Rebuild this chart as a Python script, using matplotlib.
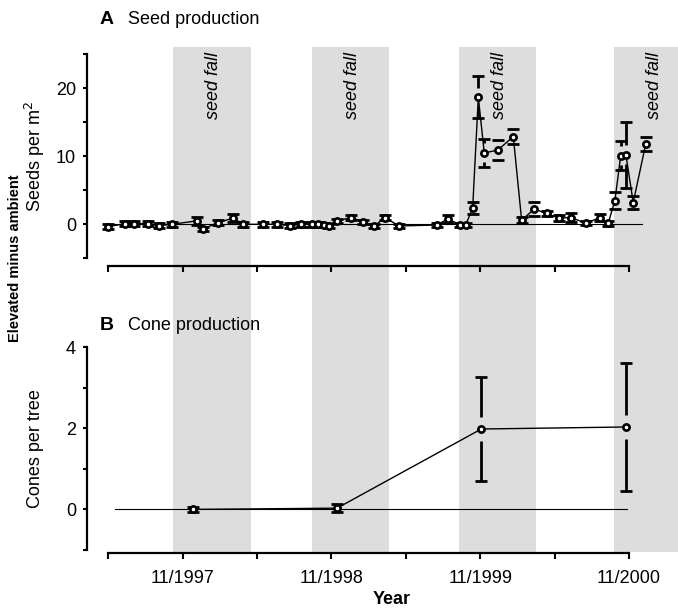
import numpy as np
import matplotlib
matplotlib.use("Agg")
import matplotlib.pyplot as plt

plt.rcParams['font.family'] = ['Liberation Sans', 'DejaVu Sans']

# x values are decimal years (11/1997 = 1997.833)
# seed fall periods (grey bands)
band_start = [1997.771, 1998.703, 1999.689, 2000.735]
band_end = [1998.291, 1999.223, 2000.207, 2001.25]

# A: seed production, elevated minus ambient (seeds per m2)
seed_x = [1997.333, 1997.445, 1997.506, 1997.598, 1997.672, 1997.759, 1997.927,
          1997.971, 1998.068, 1998.173, 1998.240, 1998.371, 1998.469, 1998.554,
          1998.626, 1998.700, 1998.744, 1998.785, 1998.818, 1998.868, 1998.966,
          1999.047, 1999.120, 1999.193, 1999.287, 1999.540, 1999.618, 1999.697,
          1999.735, 1999.782, 1999.820, 1999.860, 1999.950, 2000.055, 2000.111,
          2000.196, 2000.279, 2000.362, 2000.443, 2000.543, 2000.638, 2000.693,
          2000.738, 2000.777, 2000.812, 2000.861, 2000.945]
seed_y = [-0.35, 0.1, 0.1, 0.1, -0.2, 0.0, 0.5, -0.7, 0.25, 0.9, 0.0, 0.0, 0.0,
          -0.2, 0.0, 0.0, 0.0, -0.1, -0.25, 0.5, 1.0, 0.35, -0.25, 1.0, -0.25,
          -0.1, 0.8, -0.1, -0.1, 2.4, 18.7, 10.5, 10.9, 12.9, 0.6, 2.25, 1.6,
          0.9, 1.0, 0.15, 1.0, 0.15, 3.5, 10.1, 10.2, 3.2, 11.8]
seed_err = [0.35, 0.35, 0.35, 0.35, 0.35, 0.35, 0.6, 0.35, 0.35, 0.6, 0.35, 0.35, 0.35,
            0.35, 0.35, 0.35, 0.35, 0.35, 0.35, 0.35, 0.35, 0.35, 0.35, 0.35, 0.35,
            0.3, 0.6, 0.3, 0.3, 0.85, 3.1, 2.0, 1.5, 1.05, 0.45, 1.1, 0.4,
            0.4, 0.66, 0.3, 0.5, 0.4, 1.2, 2.1, 4.9, 1.0, 1.05]

# B: cone production, elevated minus ambient (cones per tree)
cone_x = [1997.902, 1998.870, 1999.840, 2000.810]
cone_y = [0.0, 0.03, 1.98, 2.03]
cone_err = [0.06, 0.1, 1.27, 1.58]

zero_a = (1997.306, 2000.918)
zero_b = (1997.378, 2000.819)

year_ticks = np.arange(1997.333, 2000.9, 0.5)
year_labels = ['', '11/1997', '', '11/1998', '', '11/1999', '', '11/2000']

W, H = 678, 609
fig = plt.figure(figsize=(W / 100, H / 100), dpi=100)
xlim = (1997.190, 2001.162)


def fx(px):
    return px / W


def fy(py):
    return 1 - py / H


# background with seed-fall bands through both panels
bg = fig.add_axes([fx(87), fy(552), fx(678) - fx(87), fy(47) - fy(552)], zorder=0)
bg.set_xlim(xlim)
bg.set_ylim(0, 1)
bg.axis('off')
for s, e in zip(band_start, band_end):
    bg.axvspan(s, e, color='#dddddd', lw=0)

axA = fig.add_axes([fx(87), fy(258.3), fx(678) - fx(87), fy(54.3) - fy(258.3)], zorder=1)
axB = fig.add_axes([fx(87), fy(550), fx(678) - fx(87), fy(347) - fy(550)], zorder=1)


def draw(ax, x, y, err, gap, capsize):
    x = np.array(x)
    y = np.array(y)
    err = np.array(err)
    # caps only
    ax.errorbar(x, y, yerr=err, fmt='none', ecolor='black', elinewidth=0,
                capsize=capsize, capthick=2, zorder=3)
    # stems with a gap around the marker
    big = err > gap
    ax.vlines(x[big], y[big] + gap, y[big] + err[big], color='black', lw=2, zorder=3)
    ax.vlines(x[big], y[big] - err[big], y[big] - gap, color='black', lw=2, zorder=3)
    ax.plot(x, y, '-', color='black', lw=1, zorder=4)
    ax.plot(x, y, 'o', ms=4.5, mfc='white', mec='black', mew=1.9, zorder=5)


def style(ax, ylim, yticks, ylabels, out, show_xlabels):
    ax.set_facecolor('none')
    ax.set_xlim(xlim)
    ax.set_ylim(ylim)
    for s in ['top', 'right']:
        ax.spines[s].set_visible(False)
    ax.spines['left'].set_linewidth(1.6)
    ax.spines['bottom'].set_linewidth(1.6)
    ax.spines['bottom'].set_position(('outward', out))
    ax.spines['bottom'].set_bounds(year_ticks[0], year_ticks[-1])
    ax.set_xticks(year_ticks)
    ax.set_xticklabels(year_labels if show_xlabels else [''] * len(year_ticks))
    ax.set_yticks(yticks)
    ax.set_yticklabels(ylabels)
    ax.tick_params(axis='x', length=4, width=1.5, pad=8, labelsize=13)
    ax.tick_params(axis='y', length=3, width=1.5, pad=5, labelsize=13)


draw(axA, seed_x, seed_y, seed_err, 1.4, 4.5)
axA.plot(zero_a, [0, 0], color='black', lw=0.8, zorder=2)
style(axA, (-5, 25), [-5, 0, 5, 10, 15, 20, 25], ['', '0', '', '10', '', '20', ''], 5.5, False)

draw(axB, cone_x, cone_y, cone_err, 0.3, 4)
axB.plot(zero_b, [0, 0], color='black', lw=0.8, zorder=2)
style(axB, (-1, 4), [-1, 0, 1, 2, 3, 4], ['', '0', '', '2', '', '4'], 2.2, True)

for s, e in zip(band_start, band_end):
    axA.text(s + 0.27, 25.3, 'seed fall', rotation=90, style='italic', fontsize=13,
             ha='center', va='top', clip_on=False, zorder=6)

fig.text(fx(100), fy(20), 'A', fontsize=14, fontweight='bold', va='center', ha='left')
fig.text(fx(128), fy(20), 'Seed production', fontsize=13, va='center', ha='left')
fig.text(fx(100), fy(325), 'B', fontsize=14, fontweight='bold', va='center', ha='left')
fig.text(fx(128), fy(325), 'Cone production', fontsize=13, va='center', ha='left')

fig.text(fx(15), fy(258), 'Elevated minus ambient', rotation=90, fontsize=10.5,
         fontweight='bold', ha='center', va='center')
fig.text(fx(35), fy(157), 'Seeds per m$^2$', rotation=90, fontsize=13,
         ha='center', va='center')
fig.text(fx(35), fy(449), 'Cones per tree', rotation=90, fontsize=13,
         ha='center', va='center')
fig.text(fx(392), fy(600), 'Year', fontsize=13, fontweight='bold', ha='center', va='center')

fig.savefig('out.png', dpi=100)
